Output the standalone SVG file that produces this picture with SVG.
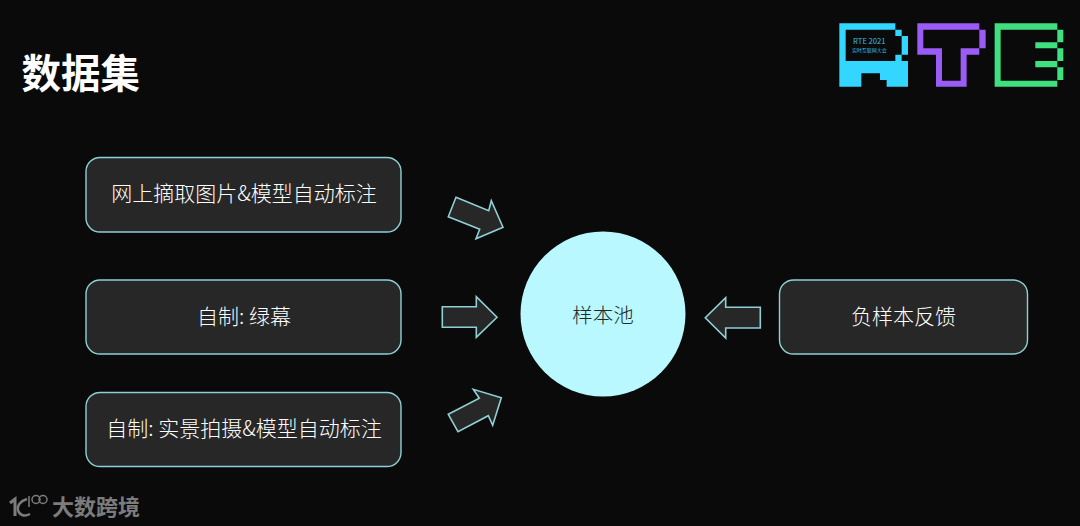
<svg xmlns="http://www.w3.org/2000/svg" width="1080" height="526" viewBox="0 0 1080 526">
<style>
text{font-family:"Noto Sans CJK SC","Noto Sans",sans-serif}
.box{fill:#272727;stroke:#8fd0d6;stroke-width:1.4}
.lbl{fill:#fff;font-size:21px;font-weight:300;text-anchor:middle}
.arr{fill:#272727;stroke:#8fd0d6;stroke-width:1.6;stroke-linejoin:miter}
</style>
<rect width="1080" height="526" fill="#0a0a0a"/>
<text id="title" x="21.500" y="88" font-size="39.500" font-weight="700" fill="#fff">数据集</text>
<g id="logo" transform="translate(820,10) scale(0.3333)">
<path fill="#33d6ff" fill-rule="evenodd" d="M58 40H226V59H245V78H264V134H245V153H264V230H200V210H180V190H124V230H58ZM77 59V153H226V134H245V78H226V59Z"/>
<path fill="#9a5cf5" fill-rule="evenodd" d="M292 40H478V59H497V115H478V134H440V230H348V134H292ZM310 59V115H366V212H422V115H478V59Z"/>
<path fill="#3fe07f" fill-rule="evenodd" d="M524 40H712V59H730V97H712V115H730V153H712V172H730V210H712V230H524ZM542 59V212H712V172H646V153H712V115H646V97H712V59Z"/>
<text x="148" y="103" font-size="23" fill="#33bfe6" text-anchor="middle" font-family="Liberation Sans">RTE 2021</text>
<text x="148" y="127" font-size="15" fill="#33bfe6" text-anchor="middle">实时互联网大会</text>
</g>
<g id="connectors">
<polygon class="arr" points="456,197.3 488.7,210.7 491.3,200.7 503,227.3 476,238.7 479.7,229.3 448.3,216.7"/>
<polygon class="arr" points="442.3,306.7 476.3,306.7 476.3,296.7 497,317.3 476.3,337.3 476.3,327.3 442.3,327.3"/>
<polygon class="arr" points="448.3,414.3 479.3,398.3 473.3,389.3 501.3,397.7 492.7,425.3 488.3,415.7 458,431.7"/>
<polygon class="arr" points="760.3,307.3 725.7,307.3 725.7,297.7 705.3,317.7 725.7,338 725.7,328 760.3,328"/>
</g>
<g id="node1"><rect class="box" x="86" y="157.500" width="315" height="74.500" rx="14"/><text class="lbl" x="244" y="201">网上摘取图片&amp;模型自动标注</text></g>
<g id="node2"><rect class="box" x="86" y="280" width="315" height="74" rx="14"/><text class="lbl" x="244" y="324">自制: 绿幕</text></g>
<g id="node3"><rect class="box" x="86" y="392.500" width="315" height="74" rx="14"/><text class="lbl" x="244" y="436">自制: 实景拍摄&amp;模型自动标注</text></g>
<g id="node4"><rect class="box" x="779.500" y="280" width="248" height="74" rx="14"/><text class="lbl" x="903.500" y="324">负样本反馈</text></g>
<g id="node5"><circle cx="603" cy="314" r="82.500" fill="#b9f8ff"/><text x="603" y="323" font-size="20.500" font-weight="300" fill="#1c2a2c" text-anchor="middle">样本池</text></g>
<g id="watermark" fill="#7c7c7c">
<path d="M10 503L15 499V516" fill="none" stroke="#7c7c7c" stroke-width="3"/>
<path d="M27 499C20 501 17 506 18 510C19 515 24 517 30 514" fill="none" stroke="#7c7c7c" stroke-width="2.500"/>
<path d="M29 496V507" fill="none" stroke="#7c7c7c" stroke-width="1.500"/>
<ellipse cx="36" cy="499.500" rx="4" ry="4" fill="none" stroke="#7c7c7c" stroke-width="1.500"/>
<ellipse cx="43" cy="499.500" rx="4" ry="4" fill="none" stroke="#7c7c7c" stroke-width="1.500"/>
<text x="52" y="514.500" font-size="22" font-weight="700">大数跨境</text>
</g>
</svg>
